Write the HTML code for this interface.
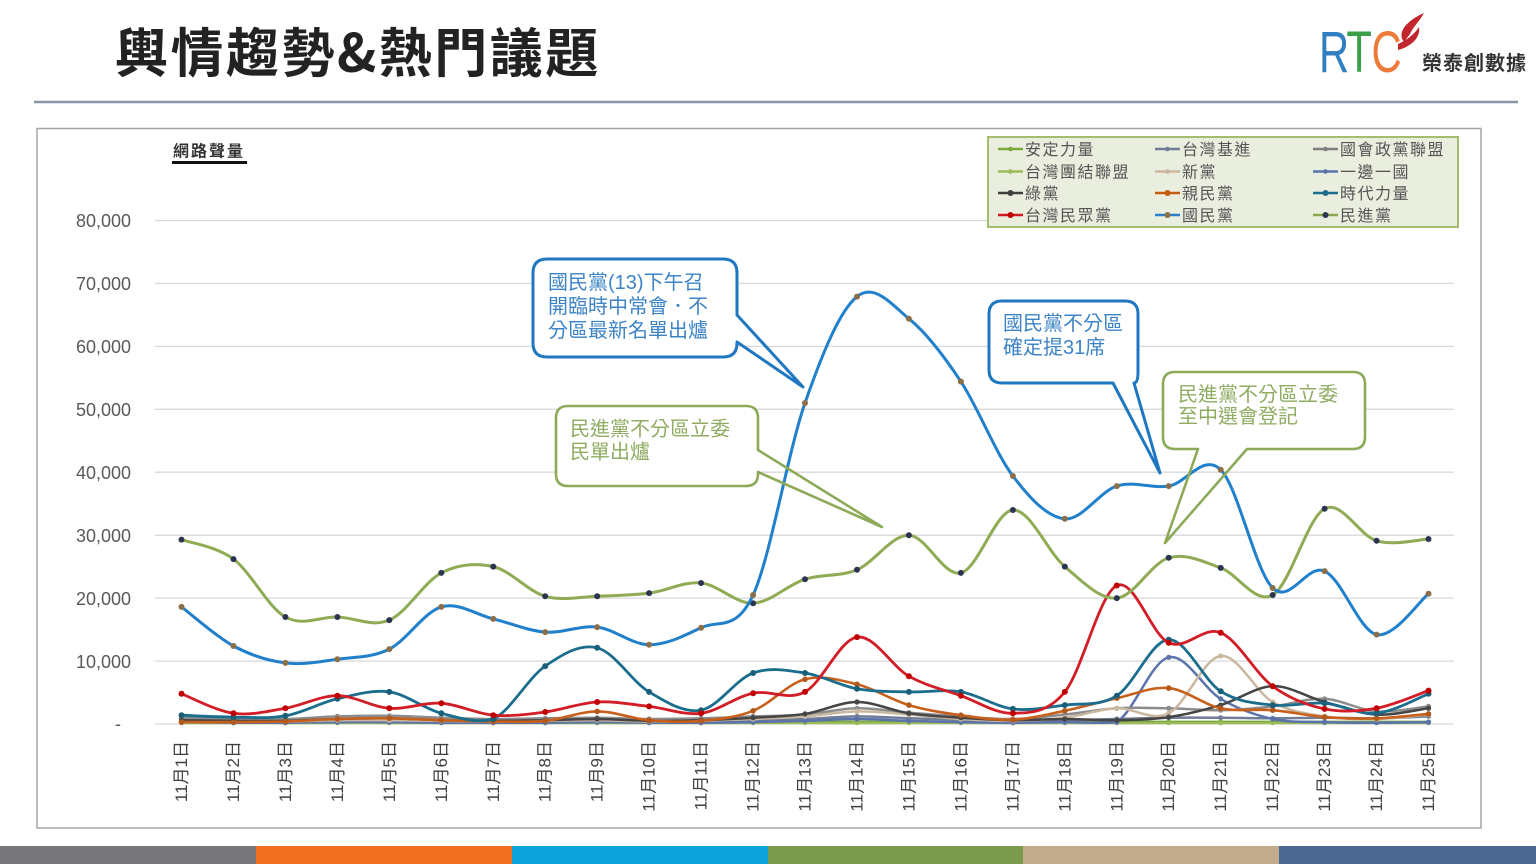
<!DOCTYPE html>
<html>
<head>
<meta charset="utf-8">
<style>
html,body{margin:0;padding:0;background:#fff;}
svg{display:block;}
text{font-family:"Liberation Sans","Noto Sans CJK TC",sans-serif;}
</style>
</head>
<body>
<svg id="s" width="1536" height="864" viewBox="0 0 1536 864" xmlns="http://www.w3.org/2000/svg">
<rect x="0" y="0" width="1536" height="864" fill="#fff"/>

<!-- Title -->
<text x="115" y="72" font-size="53" font-weight="700" fill="#222" letter-spacing="2.5" style="font-family:'Noto Sans CJK TC','Liberation Sans',sans-serif">輿情趨勢&amp;熱門議題</text>

<!-- Logo -->
<g transform="translate(1319,72) scale(0.72,1)">
<text x="0" y="0" font-size="58" fill="#2f7fc1">R</text>
<text x="38" y="0" font-size="58" fill="#3aa04a">T</text>
<text x="73" y="0" font-size="58" fill="#ee7a3a">C</text>
</g>
<path d="M1404,42 C1396,32 1408,20 1424,13 C1419,22 1413,27 1410,34 Z" fill="#c1272d"/>
<path d="M1398,50 C1410,47 1421,38 1419,27 C1413,36 1405,41 1398,44 Z" fill="#c1272d"/>
<text x="1422" y="70" font-size="20" font-weight="700" fill="#333" letter-spacing="1" style="font-family:'Noto Sans CJK TC','Liberation Sans',sans-serif">榮泰創數據</text>

<!-- separator -->
<line x1="34" y1="102" x2="1518" y2="102" stroke="#8796a8" stroke-width="2.5"/>

<!-- chart frame -->
<rect x="37" y="128.5" width="1444" height="699.5" fill="#fff" stroke="#a6a6a6" stroke-width="1.5"/>

<!-- Y title -->
<text x="173" y="156.5" font-size="16" font-weight="700" fill="#333" letter-spacing="2">網路聲量</text>
<line x1="172" y1="162.5" x2="247" y2="162.5" stroke="#111" stroke-width="3"/>

<!-- gridlines -->
<g stroke="#d9d9d9" stroke-width="1.3">
<line x1="155" y1="220.5" x2="1454" y2="220.5"/>
<line x1="155" y1="283.4" x2="1454" y2="283.4"/>
<line x1="155" y1="346.4" x2="1454" y2="346.4"/>
<line x1="155" y1="409.3" x2="1454" y2="409.3"/>
<line x1="155" y1="472.2" x2="1454" y2="472.2"/>
<line x1="155" y1="535.2" x2="1454" y2="535.2"/>
<line x1="155" y1="598.1" x2="1454" y2="598.1"/>
<line x1="155" y1="661.1" x2="1454" y2="661.1"/>
<line x1="155" y1="724" x2="1454" y2="724"/>
</g>

<!-- Y labels -->
<g font-size="18" fill="#595959" text-anchor="end">
<text x="131" y="227">80,000</text>
<text x="131" y="290">70,000</text>
<text x="131" y="353">60,000</text>
<text x="131" y="416">50,000</text>
<text x="131" y="479">40,000</text>
<text x="131" y="542">30,000</text>
<text x="131" y="605">20,000</text>
<text x="131" y="668">10,000</text>
<text x="121" y="730">-</text>
</g>

<!-- X labels -->
<g font-size="17" fill="#404040" text-anchor="end" dominant-baseline="central">
<text transform="translate(181.5,741) rotate(-90)">11月1日</text>
<text transform="translate(233.5,741) rotate(-90)">11月2日</text>
<text transform="translate(285.4,741) rotate(-90)">11月3日</text>
<text transform="translate(337.4,741) rotate(-90)">11月4日</text>
<text transform="translate(389.3,741) rotate(-90)">11月5日</text>
<text transform="translate(441.3,741) rotate(-90)">11月6日</text>
<text transform="translate(493.3,741) rotate(-90)">11月7日</text>
<text transform="translate(545.2,741) rotate(-90)">11月8日</text>
<text transform="translate(597.2,741) rotate(-90)">11月9日</text>
<text transform="translate(649.1,741) rotate(-90)">11月10日</text>
<text transform="translate(701.1,741) rotate(-90)">11月11日</text>
<text transform="translate(753.1,741) rotate(-90)">11月12日</text>
<text transform="translate(805,741) rotate(-90)">11月13日</text>
<text transform="translate(857,741) rotate(-90)">11月14日</text>
<text transform="translate(908.9,741) rotate(-90)">11月15日</text>
<text transform="translate(960.9,741) rotate(-90)">11月16日</text>
<text transform="translate(1012.9,741) rotate(-90)">11月17日</text>
<text transform="translate(1064.8,741) rotate(-90)">11月18日</text>
<text transform="translate(1116.8,741) rotate(-90)">11月19日</text>
<text transform="translate(1168.7,741) rotate(-90)">11月20日</text>
<text transform="translate(1220.7,741) rotate(-90)">11月21日</text>
<text transform="translate(1272.7,741) rotate(-90)">11月22日</text>
<text transform="translate(1324.6,741) rotate(-90)">11月23日</text>
<text transform="translate(1376.6,741) rotate(-90)">11月24日</text>
<text transform="translate(1428.5,741) rotate(-90)">11月25日</text>
</g>

<!-- series -->
<g id="plot"></g>

<!-- Legend -->
<rect x="988" y="137" width="470" height="90" fill="#eaeedf" stroke="#a4bd6c" stroke-width="2"/>
<g stroke-width="2.5">
<line x1="998" y1="149" x2="1023" y2="149" stroke="#7aaa3c"/>
<line x1="1155" y1="149" x2="1180" y2="149" stroke="#6f7e96"/>
<line x1="1313" y1="149" x2="1338" y2="149" stroke="#7f7f7f"/>
<line x1="998" y1="171.5" x2="1023" y2="171.5" stroke="#9bbb59"/>
<line x1="1155" y1="171.5" x2="1180" y2="171.5" stroke="#c9b89e"/>
<line x1="1313" y1="171.5" x2="1338" y2="171.5" stroke="#5b72ab"/>
<line x1="998" y1="193" x2="1023" y2="193" stroke="#3f3f3f"/>
<line x1="1155" y1="193" x2="1180" y2="193" stroke="#c55a11"/>
<line x1="1313" y1="193" x2="1338" y2="193" stroke="#1d6c8c"/>
<line x1="998" y1="215" x2="1023" y2="215" stroke="#d0181f"/>
<line x1="1155" y1="215" x2="1180" y2="215" stroke="#2b80cb"/>
<line x1="1313" y1="215" x2="1338" y2="215" stroke="#8aa84c"/>
</g>
<g>
<circle cx="1010.5" cy="149" r="2.3" fill="#7aaa3c"/>
<circle cx="1167.5" cy="149" r="2.3" fill="#6f7e96"/>
<circle cx="1325.5" cy="149" r="2.3" fill="#7f7f7f"/>
<circle cx="1010.5" cy="171.5" r="2.3" fill="#9bbb59"/>
<circle cx="1167.5" cy="171.5" r="2.3" fill="#c9b89e"/>
<circle cx="1325.5" cy="171.5" r="2.3" fill="#5b72ab"/>
<circle cx="1010.5" cy="193" r="3" fill="#3f3f3f"/>
<circle cx="1167.5" cy="193" r="3" fill="#c55a11"/>
<circle cx="1325.5" cy="193" r="3" fill="#1d6c8c"/>
<circle cx="1010.5" cy="215" r="3" fill="#c00000"/>
<circle cx="1167.5" cy="215" r="3" fill="#8a6f4a"/>
<circle cx="1325.5" cy="215" r="3" fill="#2b3552"/>
</g>
<g font-size="16" fill="#555" letter-spacing="1.5">
<text x="1025" y="155">安定力量</text>
<text x="1182" y="155">台灣基進</text>
<text x="1340" y="155">國會政黨聯盟</text>
<text x="1025" y="177.5">台灣團結聯盟</text>
<text x="1182" y="177.5">新黨</text>
<text x="1340" y="177.5">一邊一國</text>
<text x="1025" y="199">綠黨</text>
<text x="1182" y="199">親民黨</text>
<text x="1340" y="199">時代力量</text>
<text x="1025" y="221">台灣民眾黨</text>
<text x="1182" y="221">國民黨</text>
<text x="1340" y="221">民進黨</text>
</g>

<!-- Callouts -->
<rect x="533" y="259" width="204" height="98" rx="14" fill="#fff"/>
<path d="M547,259 H723 Q737,259 737,273 V315 L803,387 L737,342 V343 Q737,357 723,357 H547 Q533,357 533,343 V273 Q533,259 547,259 Z" fill="none" stroke="#1f77c2" stroke-width="3" stroke-linejoin="round"/>
<g font-size="20" fill="#3d84c6">
<text x="548" y="289">國民黨(13)下午召</text>
<text x="548" y="313">開臨時中常會．不</text>
<text x="548" y="337">分區最新名單出爐</text>
</g>

<rect x="556" y="406" width="202" height="80" rx="12" fill="#fff"/>
<path d="M568,406 H746 Q758,406 758,418 V450 L882,527 L758,472 V474 Q758,486 746,486 H568 Q556,486 556,474 V418 Q556,406 568,406 Z" fill="none" stroke="#8caa58" stroke-width="2.6" stroke-linejoin="round"/>
<g font-size="20" fill="#8fac62">
<text x="570" y="435.5">民進黨不分區立委</text>
<text x="570" y="458.5">民單出爐</text>
</g>

<rect x="989" y="301" width="149" height="82" rx="13" fill="#fff"/>
<path d="M1002,301 H1125 Q1138,301 1138,314 V372 Q1138,383 1134,383 L1160,473 L1113,383 H1002 Q989,383 989,370 V314 Q989,301 1002,301 Z" fill="none" stroke="#1f77c2" stroke-width="3" stroke-linejoin="round"/>
<g font-size="20" fill="#3d84c6">
<text x="1003" y="330">國民黨不分區</text>
<text x="1003" y="354">確定提31席</text>
</g>

<rect x="1163" y="372" width="202" height="77" rx="12" fill="#fff"/>
<path d="M1175,372 H1353 Q1365,372 1365,384 V437 Q1365,449 1353,449 H1247 L1165,543 L1198,449 H1175 Q1163,449 1163,437 V384 Q1163,372 1175,372 Z" fill="none" stroke="#8caa58" stroke-width="2.6" stroke-linejoin="round"/>
<g font-size="20" fill="#8fac62">
<text x="1178" y="401">民進黨不分區立委</text>
<text x="1178" y="423">至中選會登記</text>
</g>

<!-- bottom bar -->
<rect x="0" y="846" width="256" height="18" fill="#77777a"/>
<rect x="256" y="846" width="256" height="18" fill="#f26f21"/>
<rect x="512" y="846" width="256" height="18" fill="#0fa3dc"/>
<rect x="768" y="846" width="255" height="18" fill="#7c9a4c"/>
<rect x="1023" y="846" width="256" height="18" fill="#c2ac8c"/>
<rect x="1279" y="846" width="257" height="18" fill="#4c6890"/>
</svg>

<script>
(function(){
var X0=181.5, DX=51.96, Y0=724, K=6.294;
var S=[
 {c:'#7aaa3c',m:'#7aaa3c',w:3,r:2.6,d:[.3,.3,.3,.3,.3,.3,.3,.3,.3,.3,.3,.3,.3,.3,.3,.3,.3,.3,.3,.3,.3,.3,.3,.3,.3]},
 {c:'#9bbb59',m:'#9bbb59',w:2.2,r:2.2,d:[.15,.15,.15,.15,.15,.15,.15,.15,.15,.15,.15,.15,.15,.15,.15,.15,.15,.15,.15,.15,.15,.15,.15,.15,.15]},
 {c:'#6f7e96',m:'#6f7e96',w:2.5,r:2.5,d:[.8,.6,.5,.6,.7,.6,.5,.5,.6,.5,.5,.6,.8,1.2,.9,.7,.5,.6,.8,1.0,1.0,.9,1.0,.9,1.2]},
 {c:'#5b72ab',m:'#5b72ab',w:2.5,r:2.6,d:[.3,.2,.2,.3,.3,.2,.2,.2,.3,.2,.2,.3,.5,.8,.5,.3,.2,.3,.3,10.6,4.0,.8,.3,.2,.3]},
 {c:'#8c8c8c',m:'#8c8c8c',w:2.5,r:2.6,d:[1.0,.9,.8,1.2,1.3,1.0,.8,.9,1.0,.8,.9,1.2,1.5,2.5,1.8,1.2,.8,1.5,2.5,2.5,2.2,2.8,4.0,2.0,2.8]},
 {c:'#c9b89e',m:'#c9b89e',w:2.5,r:2.6,d:[.5,.4,.4,.6,.6,.5,.4,.5,.6,.4,.5,.8,1.2,2.0,1.5,.8,.5,1.0,2.5,1.7,10.8,3.5,1.2,.8,1.5]},
 {c:'#454545',m:'#454545',w:2.5,r:2.6,d:[.6,.5,.5,.8,.9,.6,.5,.6,.8,.5,.6,1.0,1.6,3.5,1.7,1.0,.6,.8,.6,1.1,3.0,6.0,3.5,1.5,2.5]},
 {c:'#c8601c',m:'#b5581b',w:2.6,r:2.8,d:[.3,.3,.4,.8,.9,.6,.4,.5,2.0,.6,.5,2.1,7.1,6.3,3.0,1.4,.7,2.1,4.1,5.7,2.5,2.2,1.1,.9,1.6]},
 {c:'#1b6d8d',m:'#1a5f78',w:2.8,r:3,d:[1.4,1.1,1.3,4.0,5.1,1.7,.8,9.2,12.1,5.1,2.2,8.1,8.1,5.6,5.1,5.1,2.4,3.0,4.5,13.4,5.2,3.0,3.3,1.7,4.8]},
 {c:'#d21d26',m:'#c00000',w:2.8,r:3,d:[4.8,1.7,2.5,4.5,2.5,3.3,1.4,1.9,3.5,2.8,1.7,4.9,5.1,13.8,7.6,4.5,1.7,5.1,22.0,12.9,14.5,6.0,2.4,2.5,5.3]},
 {c:'#8fab53',m:'#2b3552',w:3,r:3,d:[29.3,26.2,17.0,17.0,16.5,24.0,25.0,20.3,20.3,20.8,22.4,19.2,23.0,24.5,30.0,24.0,34.0,25.0,20.0,26.4,24.8,20.5,34.2,29.1,29.4]},
 {c:'#2180cc',m:'#8a6f4a',w:3,r:3,d:[18.6,12.4,9.7,10.3,11.9,18.6,16.7,14.6,15.4,12.6,15.3,20.5,51.0,67.9,64.4,54.4,39.4,32.6,37.8,37.8,40.4,21.6,24.3,14.2,20.7]}
];
var h='';
function f(v){return v.toFixed(1);}
var YMAX=Y0-0.3;
for(var k=0;k<S.length;k++){
 var s=S[k], P=[];
 for(var i=0;i<s.d.length;i++)P.push([X0+DX*i, Y0-s.d[i]*K]);
 var p='M'+f(P[0][0])+','+f(P[0][1]);
 for(var i=0;i<P.length-1;i++){
  var p0=P[i-1]||P[i], p1=P[i], p2=P[i+1], p3=P[i+2]||P[i+1];
  var c1x=p1[0]+(p2[0]-p0[0])/6, c1y=Math.min(YMAX,p1[1]+(p2[1]-p0[1])/6);
  var c2x=p2[0]-(p3[0]-p1[0])/6, c2y=Math.min(YMAX,p2[1]-(p3[1]-p1[1])/6);
  p+=' C'+f(c1x)+','+f(c1y)+' '+f(c2x)+','+f(c2y)+' '+f(p2[0])+','+f(p2[1]);
 }
 h+='<path d="'+p+'" fill="none" stroke="'+s.c+'" stroke-width="'+s.w+'" stroke-linejoin="round" stroke-linecap="round"/>';
 for(var i=0;i<P.length;i++)h+='<circle cx="'+f(P[i][0])+'" cy="'+f(P[i][1])+'" r="'+s.r+'" fill="'+s.m+'"/>';
}
var g=document.getElementById('plot');
try{g.innerHTML=h;}catch(e){
 var tmp=new DOMParser().parseFromString('<svg xmlns="http://www.w3.org/2000/svg">'+h+'</svg>','image/svg+xml');
 var n=tmp.documentElement.childNodes;
 while(n.length)g.appendChild(document.importNode(n[0],true)),n[0].parentNode.removeChild(n[0]);
}
})();
</script>
</body>
</html>
